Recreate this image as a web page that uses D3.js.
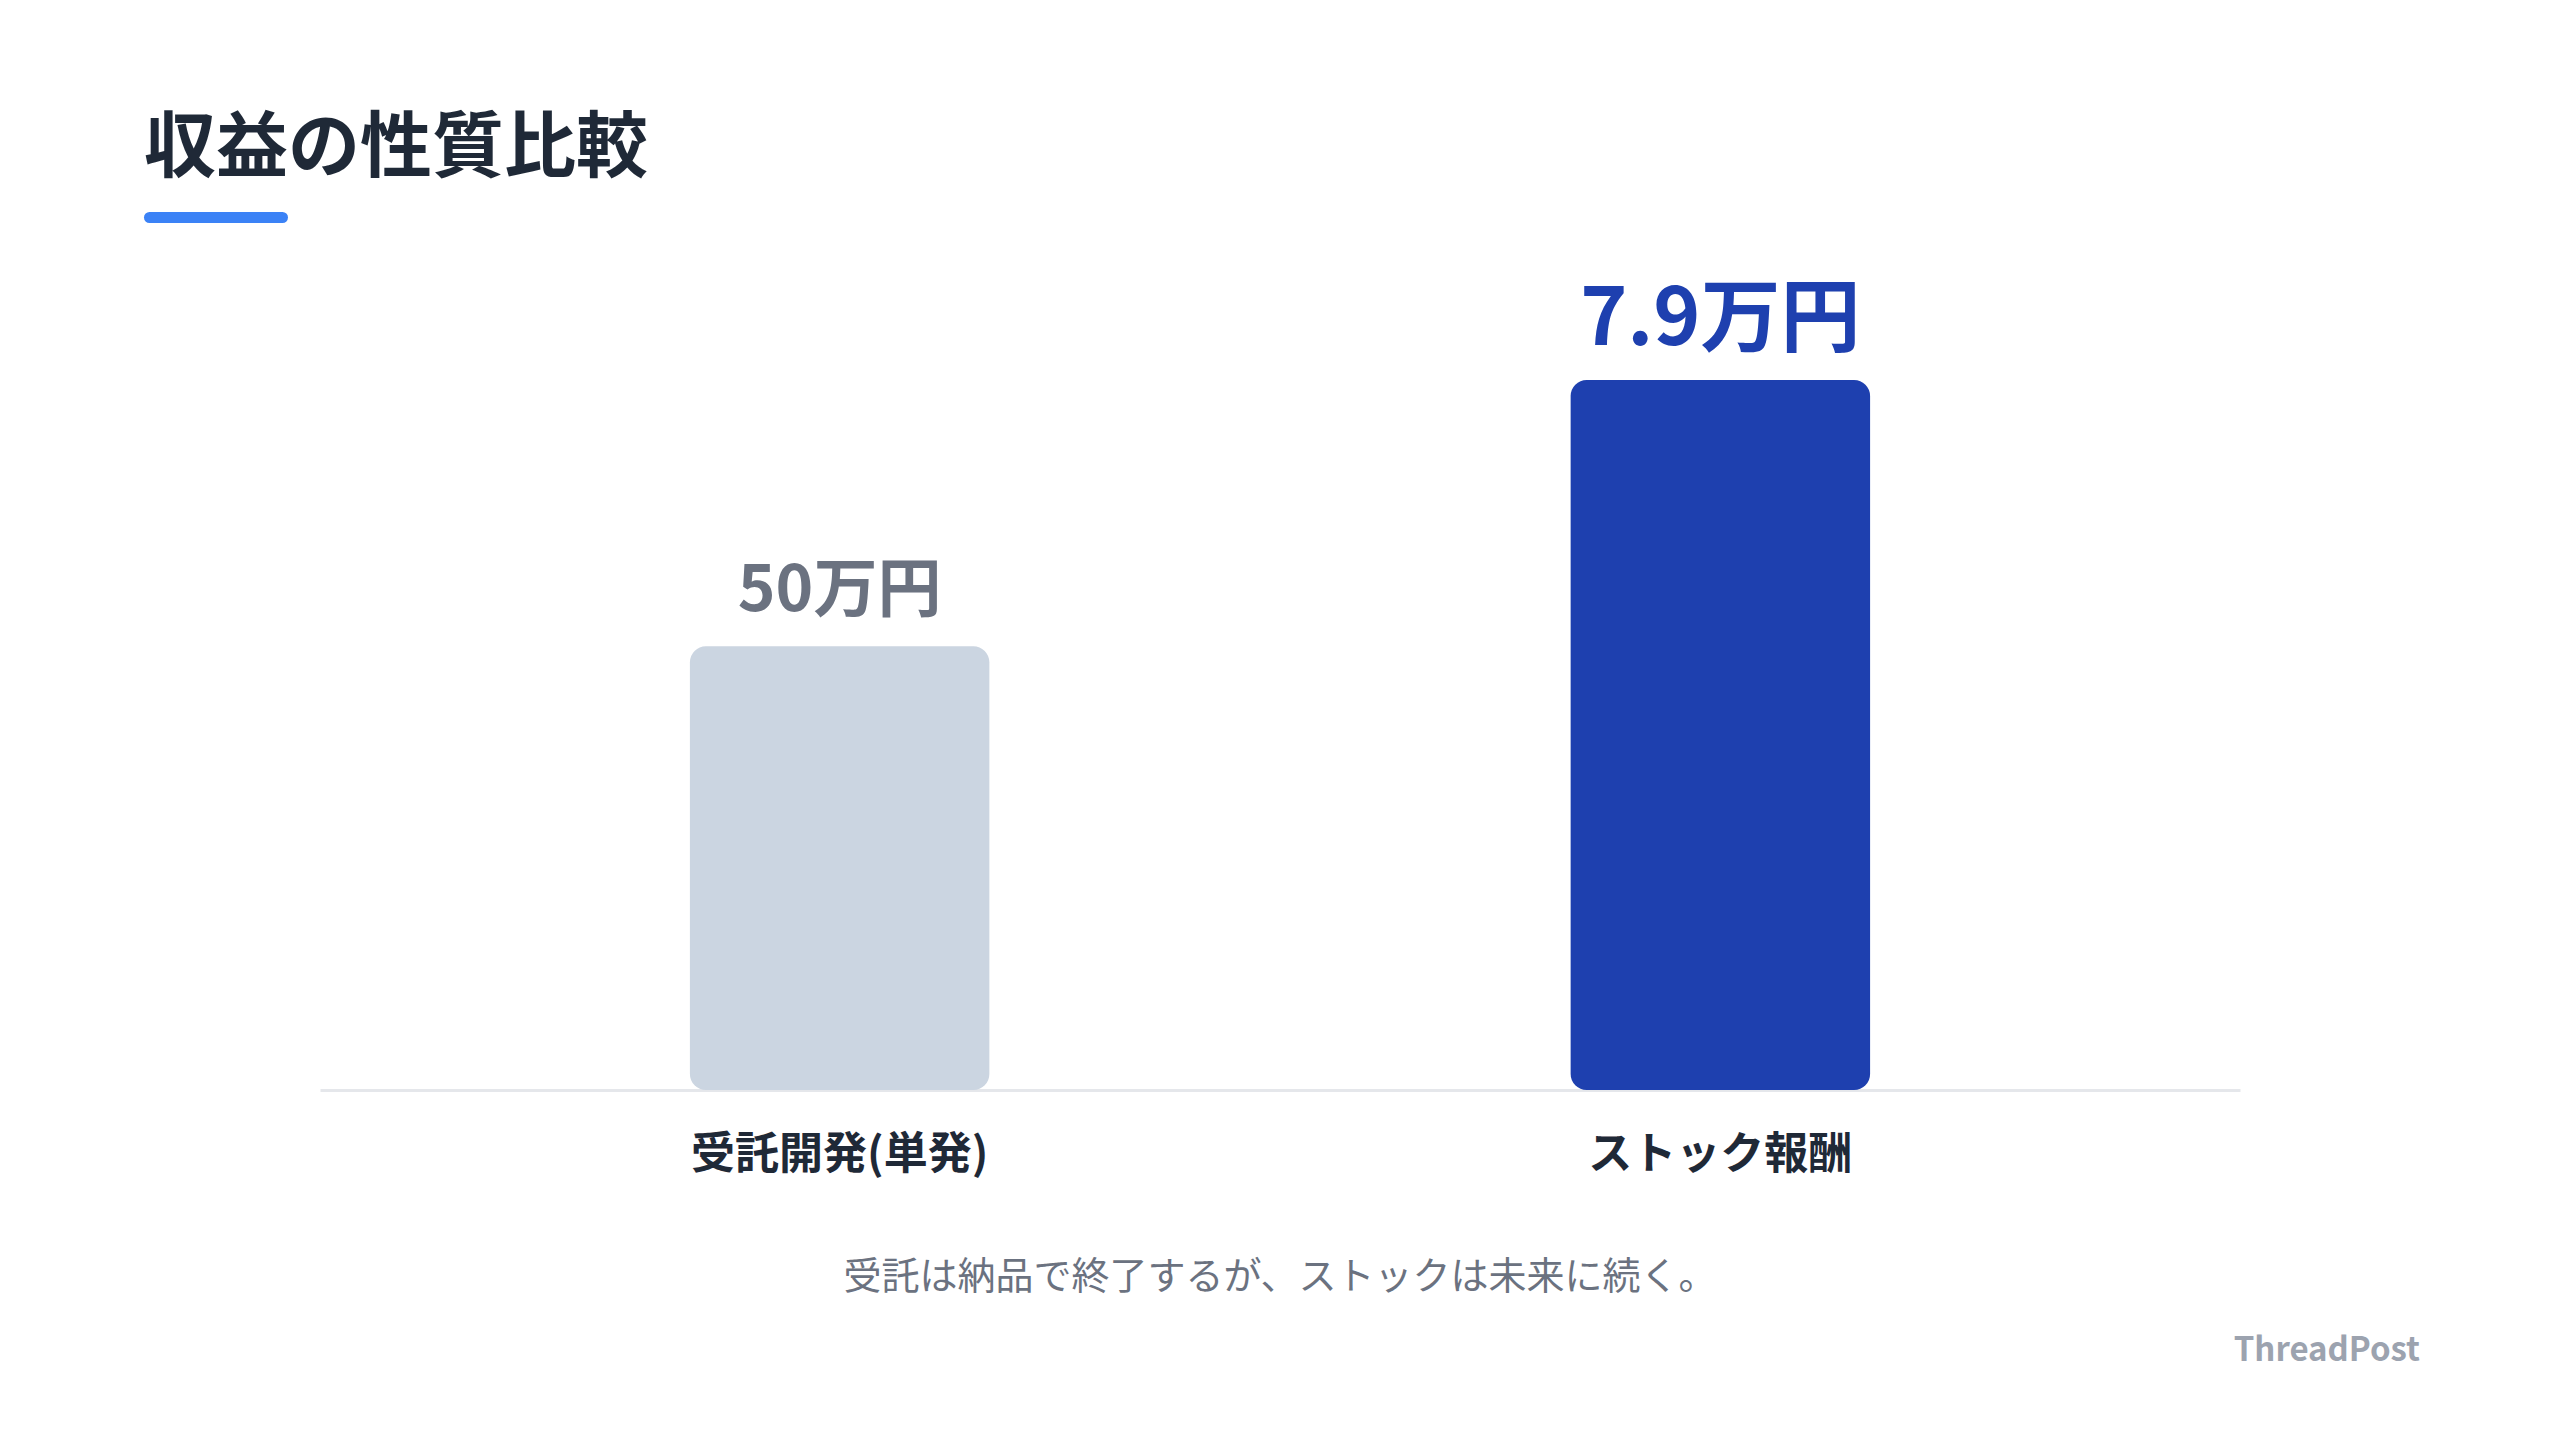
<!DOCTYPE html>
<html>
<head>
<meta charset="utf-8">
<script src="https://cdn.jsdelivr.net/npm/d3@7"></script>
<style>
  html, body { margin: 0; padding: 0; background: #ffffff; }
  svg { display: block; }
  text { font-family: "Noto Sans CJK JP", "Noto Sans", sans-serif; }
</style>
</head>
<body>
<svg id="chart" width="2560" height="1440"></svg>
<script>
// ---- data ----
const title = "収益の性質比較";
const categories = ["受託開発(単発)", "ストック報酬"];
const barValues = [50, 80];            // relative bar heights
const valueLabels = ["50万円", "7.9万円"];
const barColors = ["#cbd5e1", "#1e40af"];
const labelColors = ["#6b7280", "#1e40af"];
const labelSizes = [64, 80];
const footnote = "受託は納品で終了するが、ストックは未来に続く。";
const brand = "ThreadPost";

// ---- layout ----
const W = 2560, H = 1440;
const svg = d3.select("#chart").attr("viewBox", `0 0 ${W} ${H}`);
svg.append("rect").attr("width", W).attr("height", H).attr("fill", "#ffffff");

// title
svg.append("text")
  .attr("x", 144).attr("y", 171)
  .attr("font-size", 72).attr("font-weight", 700)
  .attr("fill", "#1f2937")
  .text(title);
svg.append("rect")
  .attr("x", 144).attr("y", 212).attr("width", 144).attr("height", 11)
  .attr("rx", 5.5).attr("fill", "#3b82f6");

// scales
const x = d3.scaleBand().domain(categories).range([320, 2240])
  .paddingInner(0.66).paddingOuter(0.42);
const y = d3.scaleLinear().domain([0, 80]).range([1090, 380]);

// axis
const axis = svg.append("g").attr("transform", `translate(0,${y(0)})`)
  .call(d3.axisBottom(x).tickSize(0).tickSizeOuter(0));
axis.select(".domain").attr("stroke", "#e5e7eb").attr("stroke-width", 3);
axis.selectAll(".tick text")
  .attr("y", 79).attr("dy", null)
  .attr("font-size", 44).attr("font-weight", 700)
  .attr("fill", "#1f2937")
  .style("font-family", '"Noto Sans CJK JP", sans-serif');

// bars
const data = categories.map((c, i) => ({ c, v: barValues[i], label: valueLabels[i], i }));
svg.append("g").selectAll("rect").data(data).join("rect")
  .attr("x", d => x(d.c))
  .attr("y", d => y(d.v))
  .attr("width", x.bandwidth())
  .attr("height", d => y(0) - y(d.v))
  .attr("rx", 16)
  .attr("fill", d => barColors[d.i]);

// value labels
svg.append("g").selectAll("text").data(data).join("text")
  .attr("x", d => x(d.c) + x.bandwidth() / 2)
  .attr("y", d => y(d.v) - 35)
  .attr("text-anchor", "middle")
  .attr("font-size", d => labelSizes[d.i])
  .attr("font-weight", 700)
  .attr("fill", d => labelColors[d.i])
  .text(d => d.label);

// footnote
svg.append("text")
  .attr("x", 1280).attr("y", 1289)
  .attr("text-anchor", "middle")
  .attr("font-size", 38).attr("font-weight", 400)
  .attr("fill", "#6b7280")
  .text(footnote);

// brand
svg.append("text")
  .attr("x", 2420).attr("y", 1361)
  .attr("text-anchor", "end")
  .attr("font-size", 33).attr("font-weight", 700)
  .attr("fill", "#9ca3af")
  .text(brand);
</script>
</body>
</html>
